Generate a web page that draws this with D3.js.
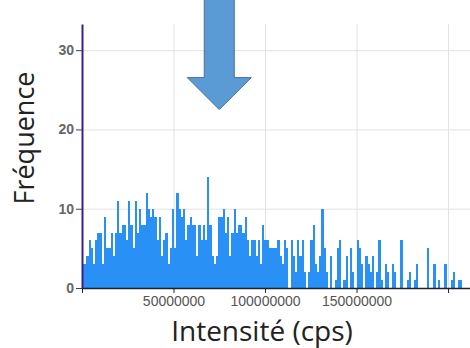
<!DOCTYPE html>
<html>
<head>
<meta charset="utf-8">
<script src="https://cdn.jsdelivr.net/npm/d3@7"></script>
<style>
  html, body { margin: 0; padding: 0; background: #fff; }
  svg { display: block; }
</style>
</head>
<body>
<svg id="chart"></svg>
<script>
// histogram: bin width in cps, counts per bin starting at 0
const BIN_WIDTH = 1.2e6;
const counts = [
  3, 3, 4, 6, 5, 3, 6, 7, 7, 3, 9, 5, 5, 7, 4, 7, 11, 7, 8, 8,
  6, 11, 8, 5, 11, 7, 10, 8, 8, 12, 10, 9, 10, 9, 6, 9, 4, 6, 7, 3,
  5, 10, 5, 12, 10, 9, 10, 6, 8, 9, 8, 8, 4, 8, 6, 8, 6, 14, 8, 4,
  3, 4, 9, 9, 10, 7, 9, 4, 7, 10, 7, 8, 8, 7, 9, 6, 4, 6, 6, 4,
  6, 3, 8, 6, 6, 5, 5, 5, 5, 6, 4, 3, 6, 5, 0, 6, 4, 2, 6, 4,
  6, 2, 0, 2, 6, 8, 3, 2, 4, 10, 5, 2, 0, 4, 0, 1, 5, 6, 0, 1,
  4, 0, 5, 2, 0, 6, 5, 3, 0, 4, 3, 2, 4, 0, 2, 6, 1, 0, 3, 2,
  0, 3, 2, 0, 0, 6, 0, 0, 1, 2, 0, 1, 3, 0, 0, 0, 0, 5, 0, 0,
  3, 0, 1, 0, 0, 3, 0, 0, 1, 2, 0, 1, 1
];
const xTicks = [0, 50e6, 100e6, 150e6, 200e6];
const xTickLabels = ["", "50000000", "100000000", "150000000", ""];
const yTicks = [0, 10, 20, 30];
const xTitle = "Intensité (cps)";
const yTitle = "Fréquence";
// annotation arrow pointing at this intensity / height
const ARROW_AT = 75e6;
const ARROW_TIP = 22.5;

const width = 470, height = 348;
const plot = { left: 82, right: 470, top: 24, bottom: 288 };

const svg = d3.select("#chart")
  .attr("width", width)
  .attr("height", height);

const x = d3.scaleLinear().domain([0, 212e6]).range([plot.left, plot.right]);
const y = d3.scaleLinear().domain([0, 33.3]).range([plot.bottom, plot.top]);

// grid
svg.append("g")
  .attr("transform", `translate(0,${plot.bottom})`)
  .call(d3.axisBottom(x).tickValues(xTicks.slice(1))
    .tickSize(-(plot.bottom - plot.top)).tickFormat(""))
  .call(g => g.select(".domain").remove())
  .selectAll("line").attr("stroke", "#e2e2e2");

svg.append("g")
  .attr("transform", `translate(${plot.left},0)`)
  .call(d3.axisLeft(y).tickValues(yTicks.slice(1))
    .tickSize(-(plot.right - plot.left)).tickFormat(""))
  .call(g => g.select(".domain").remove())
  .selectAll("line").attr("stroke", "#e2e2e2");

// bars
const bins = counts
  .map((c, i) => ({ x0: i * BIN_WIDTH, x1: (i + 1) * BIN_WIDTH, count: c }))
  .filter(d => d.count > 0);

svg.append("g")
  .attr("fill", "#2990f5")
  .attr("shape-rendering", "crispEdges")
  .selectAll("rect")
  .data(bins)
  .join("rect")
  .attr("x", d => x(d.x0))
  .attr("width", d => x(d.x1) - x(d.x0))
  .attr("y", d => y(d.count))
  .attr("height", d => y(0) - y(d.count));

// axes
const xAxis = svg.append("g")
  .attr("transform", `translate(0,${plot.bottom})`)
  .call(d3.axisBottom(x).tickValues(xTicks)
    .tickFormat((d, i) => xTickLabels[i])
    .tickSize(5).tickSizeOuter(0).tickPadding(3));
xAxis.select(".domain").attr("stroke", "#222").attr("stroke-width", 1.5);
xAxis.selectAll(".tick line").attr("stroke", "#222");
xAxis.selectAll("text")
  .attr("font-family", "Liberation Sans, Arial, sans-serif")
  .attr("font-size", 14)
  .attr("fill", "#555");

const yAxis = svg.append("g")
  .attr("transform", `translate(${plot.left},0)`)
  .call(d3.axisLeft(y).tickValues(yTicks)
    .tickSize(6).tickSizeOuter(0).tickPadding(2));
yAxis.select(".domain").attr("stroke", "#3b1e8e").attr("stroke-width", 2);
yAxis.selectAll(".tick line").attr("stroke", "#444");
yAxis.selectAll("text")
  .attr("font-family", "Liberation Sans, Arial, sans-serif")
  .attr("font-size", 14)
  .attr("font-weight", "bold")
  .attr("fill", "#666");

// titles
svg.append("text")
  .attr("x", 262)
  .attr("y", 341)
  .attr("text-anchor", "middle")
  .attr("font-family", "Open Sans, sans-serif")
  .attr("font-size", 28)
  .attr("fill", "#222")
  .text(xTitle);

svg.append("text")
  .attr("transform", `translate(34,138) rotate(-90)`)
  .attr("text-anchor", "middle")
  .attr("font-family", "Open Sans, sans-serif")
  .attr("font-size", 27)
  .attr("fill", "#222")
  .text(yTitle);

// arrow annotation
const ax = x(ARROW_AT), ay = y(ARROW_TIP);
svg.append("path")
  .attr("d", `M${ax - 15},-2 L${ax + 15},-2 L${ax + 15},${ay - 32} L${ax + 32},${ay - 32}
    L${ax},${ay} L${ax - 32},${ay - 32} L${ax - 15},${ay - 32} Z`)
  .attr("fill", "#5b9bd5")
  .attr("stroke", "#41719c")
  .attr("stroke-width", 1);
</script>
</body>
</html>
